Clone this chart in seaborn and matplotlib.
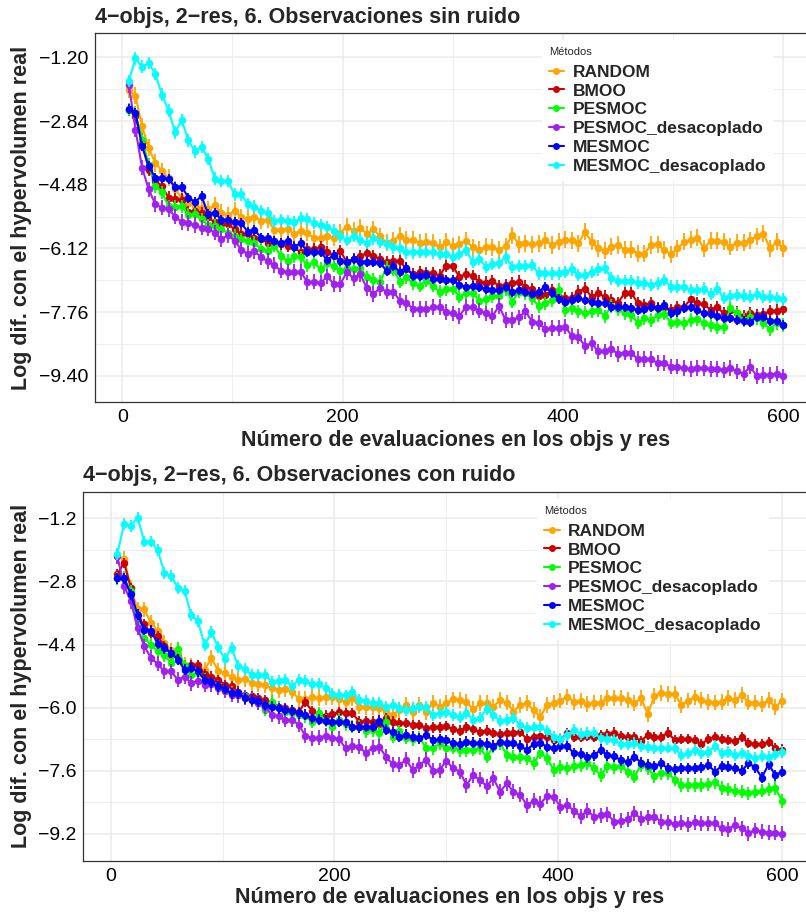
import numpy as np
import pandas as pd
import matplotlib
matplotlib.use("Agg")
import matplotlib.pyplot as plt
import seaborn as sns
from matplotlib.lines import Line2D

sns.set_theme(style="white")
plt.rcParams['font.family'] = ['Liberation Sans', 'DejaVu Sans']

# ---------------- data ----------------
methods = ["RANDOM", "BMOO", "PESMOC", "PESMOC_desacoplado", "MESMOC", "MESMOC_desacoplado"]
colors = ["#FFA500", "#CD0000", "#00FF00", "#A020F0", "#0000FF", "#00FFFF"]

evaluations = list(range(6, 601, 6))

titles = ["4\u2212objs, 2\u2212res, 6. Observaciones sin ruido",
          "4\u2212objs, 2\u2212res, 6. Observaciones con ruido"]
x_label = "Número de evaluaciones en los objs y res"
y_label = "Log dif. con el hypervolumen real"
legend_title = "Métodos"

x_ticks = [0, 200, 400, 600]
top_y_ticks = [-1.20, -2.84, -4.48, -6.12, -7.76, -9.40]
bot_y_ticks = [-1.2, -2.8, -4.4, -6.0, -7.6, -9.2]

# ---- top panel: sin ruido ----
top_random = [-2.04, -2.19, -2.98, -3.53, -3.92, -4.13, -4.30, -4.60, -4.81, -4.94,
              -5.03, -5.07, -5.11, -5.01, -5.20, -5.26, -5.15, -5.32, -5.35, -5.30,
              -5.41, -5.38, -5.64, -5.64, -5.62, -5.75, -5.66, -5.71, -5.86, -5.86,
              -5.81, -5.84, -5.71, -5.56, -5.66, -5.58, -5.75, -5.62, -5.81, -5.97,
              -5.92, -5.79, -5.90, -5.90, -5.97, -5.95, -5.97, -6.09, -5.95,
              -6.06, -6.01, -5.92, -6.09, -6.15, -6.08, -6.09, -6.16, -6.06, -5.78,
              -6.01, -5.99, -6.01, -5.99, -5.91, -6.03, -5.95, -5.89, -5.91, -5.99,
              -5.69, -5.95, -6.12, -6.18, -6.08, -6.03, -6.15, -6.15, -6.25, -6.25,
              -6.03, -6.01, -6.16, -6.27, -6.12, -5.95, -5.89, -5.84, -6.12, -5.92,
              -5.92, -5.95, -6.08, -5.97, -5.97, -5.91, -5.80, -5.74, -6.12, -5.95,
              -6.12]
top_bmoo = [-2.55, -2.72, -3.40, -4.09, -4.39, -4.51, -4.81, -4.84, -4.86, -5.18,
            -5.15, -5.20, -5.32, -5.45, -5.50, -5.50, -5.62, -5.75, -5.75, -5.84,
            -5.88, -5.97, -5.98, -6.01, -6.05, -6.09, -6.22, -6.14, -6.14, -6.09,
            -6.22, -6.31, -6.18, -6.48, -6.39, -6.31, -6.24, -6.31, -6.39, -6.48,
            -6.44, -6.44, -6.65, -6.78, -6.73, -6.75, -6.75, -6.82, -6.56,
            -6.57, -6.85, -6.78, -6.83, -6.97, -7.00, -6.95, -7.09, -7.06, -7.02,
            -6.97, -7.10, -7.17, -7.34, -7.32, -7.19, -7.36, -7.40, -7.40, -7.23,
            -7.15, -7.36, -7.27, -7.36, -7.45, -7.53, -7.26, -7.26, -7.53, -7.57,
            -7.53, -7.66, -7.62, -7.70, -7.62, -7.62, -7.43, -7.53, -7.55, -7.70,
            -7.63, -7.79, -7.70, -7.77, -7.86, -7.79, -7.83, -7.80, -7.74, -7.72,
            -7.68]
top_pesmoc = [-2.55, -2.63, -3.32, -3.96, -4.51, -4.67, -5.03, -5.04, -5.03, -5.26,
              -5.24, -5.37, -5.52, -5.54, -5.62, -5.73, -5.79, -5.88, -5.92, -5.97,
              -6.14, -6.18, -6.05, -6.32, -6.44, -6.32, -6.35, -6.55, -6.48, -6.65,
              -6.50, -6.56, -6.69, -6.63, -6.65, -6.61, -6.86, -6.92, -6.97, -6.61,
              -6.67, -6.97, -6.86, -7.01, -7.08, -6.95, -7.08, -7.23, -7.16,
              -7.15, -7.36, -7.26, -7.26, -7.46, -7.43, -7.34, -7.34, -7.17, -7.49,
              -7.23, -7.27, -7.40, -7.60, -7.53, -7.45, -7.19, -7.70, -7.66, -7.74,
              -7.77, -7.74, -7.70, -7.86, -7.60, -7.68, -7.79, -7.83, -8.03, -7.92,
              -7.96, -7.83, -7.80, -8.03, -8.00, -8.04, -7.96, -7.94, -8.04, -8.09,
              -8.15, -8.15, -7.66, -7.79, -7.96, -7.87, -7.92, -8.03, -8.20, -8.04,
              -8.09]
top_pesmoc_desac = [-1.91, -3.06, -4.04, -4.60, -4.98, -5.07, -5.11, -5.30, -5.44, -5.47,
                    -5.52, -5.58, -5.61, -5.71, -5.88, -5.78, -5.92, -6.15, -6.26, -6.18,
                    -6.35, -6.44, -6.55, -6.69, -6.73, -6.72, -6.72, -6.99, -6.97, -7.01,
                    -6.84, -7.03, -7.03, -6.72, -6.89, -6.78, -7.14, -7.29, -7.14, -7.23,
                    -7.23, -7.46, -7.52, -7.67, -7.67, -7.67, -7.63, -7.63, -7.76,
                    -7.79, -7.86, -7.62, -7.63, -7.72, -7.79, -7.86, -7.60, -7.96, -7.96,
                    -7.89, -7.74, -8.00, -8.03, -8.20, -8.17, -8.17, -8.13, -8.37, -8.39,
                    -8.63, -8.56, -8.77, -8.77, -8.71, -8.83, -8.80, -8.80, -8.97, -8.97,
                    -8.97, -9.07, -9.07, -9.16, -9.16, -9.20, -9.22, -9.20, -9.20, -9.22,
                    -9.22, -9.24, -9.20, -9.28, -9.34, -9.16, -9.40, -9.37, -9.37, -9.34,
                    -9.41]
top_mesmoc = [-2.53, -2.63, -3.49, -4.00, -4.30, -4.30, -4.34, -4.53, -4.53, -4.81,
              -4.92, -4.77, -5.24, -5.20, -5.38, -5.38, -5.45, -5.47, -5.69, -5.64,
              -5.84, -5.86, -5.92, -5.97, -5.92, -6.09, -5.98, -6.20, -6.22, -6.22,
              -6.41, -6.29, -6.44, -6.48, -6.39, -6.46, -6.46, -6.46, -6.50, -6.69,
              -6.56, -6.72, -6.61, -6.82, -6.82, -6.80, -6.90, -6.90, -6.92,
              -6.93, -7.06, -7.10, -7.09, -7.10, -7.17, -7.19, -7.19, -7.12, -7.23,
              -7.19, -7.23, -7.29, -7.23, -7.10, -7.27, -7.43, -7.49, -7.45, -7.40,
              -7.45, -7.49, -7.53, -7.53, -7.62, -7.62, -7.62, -7.66, -7.70, -7.68,
              -7.62, -7.66, -7.57, -7.77, -7.74, -7.66, -7.63, -7.70, -7.79, -7.80,
              -7.86, -7.92, -7.92, -7.96, -7.98, -8.00, -7.89, -7.87, -7.98, -7.98,
              -8.09]
top_mesmoc_desac = [-1.81, -1.23, -1.44, -1.35, -1.63, -2.16, -2.57, -3.13, -2.82, -3.34,
                    -3.62, -3.51, -3.81, -4.32, -4.39, -4.39, -4.73, -4.73, -4.98, -5.04,
                    -5.15, -5.20, -5.42, -5.38, -5.42, -5.45, -5.33, -5.37, -5.47, -5.52,
                    -5.56, -5.66, -5.81, -5.90, -5.79, -5.90, -5.98, -5.86, -5.95, -6.01,
                    -6.09, -6.12, -6.22, -6.22, -6.20, -6.20, -6.22, -6.26, -6.26,
                    -6.33, -6.25, -6.16, -6.46, -6.38, -6.59, -6.52, -6.49, -6.35, -6.59,
                    -6.57, -6.57, -6.55, -6.76, -6.76, -6.76, -6.76, -6.72, -6.66, -6.80,
                    -6.80, -6.72, -6.66, -6.61, -6.89, -6.95, -6.95, -6.95, -7.00, -7.02,
                    -7.06, -7.02, -6.93, -7.10, -7.10, -7.10, -7.19, -7.19, -7.15, -7.29,
                    -7.15, -7.40, -7.34, -7.32, -7.33, -7.36, -7.29, -7.36, -7.36, -7.40,
                    -7.43]
top_err = [0.22, 0.16, 0.17, 0.20, 0.13, 0.16]

# ---- bottom panel: con ruido ----
bot_random = [-2.16, -2.24, -2.96, -3.51, -3.51, -3.85, -4.06, -4.36, -4.55, -4.64,
              -4.91, -4.95, -4.99, -5.04, -4.74, -5.06, -5.12, -5.23, -5.29, -5.27,
              -5.37, -5.40, -5.43, -5.50, -5.55, -5.52, -5.59, -5.77, -5.77, -5.74,
              -5.76, -5.74, -5.74, -5.77, -5.86, -5.76, -5.97, -5.99, -5.99, -6.01,
              -6.10, -6.18, -6.05, -5.93, -6.10, -5.93, -6.10, -5.88,
              -5.97, -5.89, -5.79, -5.81, -5.85, -6.04, -5.89, -5.89, -5.97, -5.81,
              -5.87, -6.10, -5.93, -5.89, -6.06, -6.23, -5.93, -5.87, -5.82, -5.72,
              -5.85, -5.82, -5.91, -5.87, -5.87, -5.76, -5.76, -5.76, -5.81, -5.89,
              -5.76, -6.16, -5.70, -5.62, -5.65, -5.65, -5.93, -5.82, -5.74, -5.81,
              -5.85, -5.87, -5.85, -5.76, -5.81, -5.68, -5.87, -5.87, -5.91, -5.81,
              -5.99, -5.82]
bot_bmoo = [-2.61, -2.33, -2.96, -3.77, -3.89, -4.11, -4.19, -4.44, -4.66, -4.72,
            -4.99, -4.91, -4.91, -5.15, -5.21, -5.29, -5.42, -5.46, -5.59, -5.69,
            -5.71, -5.76, -5.80, -5.88, -5.97, -6.01, -6.05, -6.10, -5.86, -6.08,
            -6.16, -6.20, -6.16, -6.11, -6.14, -6.14, -6.35, -6.33, -6.35, -6.42,
            -6.26, -6.35, -6.39, -6.39, -6.43, -6.43, -6.52, -6.50,
            -6.50, -6.46, -6.55, -6.58, -6.50, -6.55, -6.61, -6.58, -6.65, -6.67,
            -6.65, -6.63, -6.61, -6.80, -6.74, -6.72, -6.74, -6.82, -6.80, -6.65,
            -6.74, -6.75, -6.72, -6.74, -6.69, -6.67, -6.63, -6.72, -6.75, -6.74,
            -6.84, -6.69, -6.75, -6.74, -6.63, -6.82, -6.80, -6.80, -6.82, -6.92,
            -6.80, -6.74, -6.80, -6.82, -6.84, -6.75, -6.89, -6.92, -6.92, -6.86,
            -7.03, -7.06]
bot_pesmoc = [-2.72, -2.71, -3.05, -3.85, -4.23, -4.40, -4.57, -4.66, -4.87, -4.50,
              -4.95, -5.16, -5.12, -5.29, -5.38, -5.46, -5.57, -5.63, -5.69, -5.71,
              -5.80, -5.88, -6.05, -5.86, -6.01, -6.10, -6.14, -6.18, -6.22, -6.35,
              -6.14, -6.33, -6.48, -6.31, -6.42, -6.48, -6.48, -6.59, -6.56, -6.65,
              -6.35, -6.73, -6.60, -6.76, -6.79, -6.76, -7.03, -7.03,
              -6.90, -7.01, -7.01, -7.07, -7.07, -7.06, -7.03, -7.24, -6.99, -6.89,
              -7.20, -7.24, -7.26, -7.28, -7.41, -7.14, -7.28, -7.58, -7.50, -7.54,
              -7.48, -7.45, -7.41, -7.54, -7.71, -7.48, -7.50, -7.48, -7.62, -7.75,
              -7.45, -7.54, -7.73, -7.65, -7.66, -7.82, -7.96, -7.96, -7.96, -7.96,
              -7.94, -7.88, -8.04, -8.07, -8.10, -8.13, -8.17, -8.13, -8.10, -8.07,
              -8.04, -8.36]
bot_pesmoc_desac = [-2.16, -2.92, -3.30, -3.98, -4.44, -4.74, -4.89, -5.08, -5.08, -5.29,
                    -5.21, -5.38, -5.32, -5.42, -5.40, -5.50, -5.57, -5.67, -5.69, -5.74,
                    -5.80, -5.88, -5.97, -6.18, -6.22, -6.31, -6.31, -6.43, -6.71, -6.77,
                    -6.76, -6.71, -6.77, -6.79, -7.03, -6.96, -6.99, -7.15, -7.01, -6.99,
                    -7.24, -7.43, -7.45, -7.32, -7.58, -7.45, -7.32, -7.60,
                    -7.58, -7.34, -7.54, -7.62, -7.96, -7.71, -7.83, -7.99, -7.79, -8.13,
                    -7.92, -8.13, -8.21, -8.47, -8.36, -8.43, -8.24, -8.26, -8.51, -8.47,
                    -8.61, -8.75, -8.61, -8.76, -8.72, -8.70, -8.89, -8.86, -8.83, -8.68,
                    -8.81, -8.78, -8.76, -8.89, -8.90, -8.94, -8.91, -8.95, -8.90, -8.93,
                    -8.93, -8.93, -9.06, -9.08, -8.97, -9.06, -9.18, -9.10, -9.14, -9.17,
                    -9.17, -9.20]
bot_mesmoc = [-2.72, -2.72, -3.13, -3.64, -4.02, -4.05, -4.38, -4.49, -4.61, -4.78,
              -5.04, -4.99, -5.08, -5.29, -5.35, -5.46, -5.52, -5.63, -5.63, -5.76,
              -5.80, -5.84, -5.93, -5.97, -6.01, -6.05, -6.08, -6.14, -6.18, -6.27,
              -6.31, -6.33, -6.35, -6.35, -6.37, -6.48, -6.50, -6.48, -6.48, -6.33,
              -6.56, -6.62, -6.73, -6.69, -6.73, -6.77, -6.69, -6.82,
              -6.80, -6.82, -6.90, -6.92, -6.86, -6.89, -6.90, -6.92, -6.97, -6.86,
              -6.90, -6.90, -6.97, -7.07, -6.92, -6.90, -6.99, -7.03, -6.97, -6.97,
              -7.16, -7.17, -7.26, -7.20, -7.07, -7.20, -7.23, -7.33, -7.37, -7.24,
              -7.39, -7.45, -7.48, -7.41, -7.54, -7.56, -7.54, -7.54, -7.54, -7.51,
              -7.45, -7.62, -7.48, -7.50, -7.54, -7.60, -7.41, -7.51, -7.77, -7.43,
              -7.71, -7.62]
bot_mesmoc_desac = [-2.10, -1.34, -1.39, -1.18, -1.79, -1.79, -2.01, -2.58, -2.67, -2.96,
                    -3.03, -3.66, -3.81, -4.42, -4.08, -4.47, -4.76, -4.49, -4.95, -5.01,
                    -5.18, -5.18, -5.16, -5.35, -5.32, -5.29, -5.46, -5.29, -5.33, -5.40,
                    -5.40, -5.50, -5.66, -5.67, -5.69, -5.59, -5.80, -5.84, -5.88, -5.88,
                    -5.99, -5.94, -6.01, -6.05, -6.01, -5.97, -5.99, -6.18,
                    -6.13, -6.10, -6.19, -6.23, -6.14, -6.30, -6.25, -6.04, -6.19, -6.33,
                    -6.31, -6.27, -6.44, -6.52, -6.50, -6.50, -6.58, -6.74, -6.80, -6.69,
                    -6.57, -6.67, -6.65, -6.63, -6.78, -6.80, -6.82, -6.92, -6.92, -6.90,
                    -6.97, -6.99, -7.03, -7.03, -7.01, -7.03, -7.20, -7.16, -7.07, -7.14,
                    -7.12, -6.97, -7.16, -7.12, -7.20, -7.16, -7.23, -7.28, -7.23, -7.24,
                    -7.17, -7.12]
bot_err = [0.20, 0.13, 0.17, 0.19, 0.14, 0.15]

top_series = [top_random, top_bmoo, top_pesmoc, top_pesmoc_desac, top_mesmoc, top_mesmoc_desac]
bot_series = [bot_random, bot_bmoo, bot_pesmoc, bot_pesmoc_desac, bot_mesmoc, bot_mesmoc_desac]


def make_df(series, errs):
    frames = []
    for m, vals, e in zip(methods, series, errs):
        frames.append(pd.DataFrame({"evals": evaluations, "value": vals,
                                    "err": e, "method": m}))
    return pd.concat(frames, ignore_index=True)


df_top = make_df(top_series, top_err)
df_bot = make_df(bot_series, bot_err)

W, H = 806, 913
fig = plt.figure(figsize=(W / 100, H / 100), dpi=100)
fig.patch.set_facecolor("white")


def px_axes(left, top, right, bottom):
    return fig.add_axes([left / W, 1 - bottom / H, (right - left) / W, (bottom - top) / H])


ax_top = px_axes(95, 33, 816, 402)
ax_bot = px_axes(83, 491.7, 815.3, 861)

palette = dict(zip(methods, colors))


def fmt_minus(v, nd):
    return f"{v:.{nd}f}".replace("-", "\u2212")


def draw_panel(ax, df, yticks, ylim, nd, legend_anchor, title, title_x, title_base,
               xlab_base, ylab_center):
    for i, m in enumerate(methods):
        sub = df[df["method"] == m]
        sns.lineplot(data=sub, x="evals", y="value", color=palette[m], ax=ax,
                     linewidth=1.5, marker="o", markersize=5.4, markeredgewidth=0,
                     errorbar=None, legend=False, zorder=3 + i * 0.1)
        ax.errorbar(sub["evals"], sub["value"], yerr=sub["err"], fmt="none",
                    ecolor=palette[m], elinewidth=1.3, capsize=0, zorder=3 + i * 0.1)
    ax.set_xlim(-24.75, 629.75)
    ax.set_ylim(*ylim)
    ax.set_xticks(x_ticks)
    ax.set_xticklabels([str(t) for t in x_ticks])
    ax.set_xticks([100, 300, 500], minor=True)
    ax.set_yticks(yticks)
    ax.set_yticklabels([fmt_minus(t, nd) for t in yticks])
    ax.set_yticks([(a + b) / 2 for a, b in zip(yticks[:-1], yticks[1:])], minor=True)
    ax.grid(which="major", color="#EBEBEB", linewidth=1.1)
    ax.grid(which="minor", color="#EBEBEB", linewidth=0.6)
    ax.set_axisbelow(True)
    ax.set_facecolor("white")
    for s in ax.spines.values():
        s.set_color("#333333")
        s.set_linewidth(0.9)
    ax.tick_params(which="major", length=3, width=0.8, color="#333333",
                   labelsize=14, labelcolor="black", pad=2)
    ax.tick_params(which="minor", length=0)
    ax.set_xlabel("")
    ax.set_ylabel("")

    handles = [Line2D([0], [0], color=c, marker="o", markersize=5, markeredgewidth=0,
                      linewidth=1.5) for c in colors]
    leg = ax.legend(handles, methods, title=legend_title, loc="upper left",
                    bbox_to_anchor=legend_anchor, bbox_transform=fig.transFigure,
                    prop={"weight": "bold", "size": 12.5},
                    title_fontproperties={"size": 8},
                    alignment="left", frameon=True, fancybox=False, framealpha=1,
                    facecolor="white", edgecolor="none", borderpad=0.4,
                    labelspacing=0.21, handlelength=0.9, handletextpad=0.5,
                    borderaxespad=0)
    leg._legend_box.sep = 5.5
    leg.set_zorder(10)

    fig.text(title_x / W, 1 - title_base / H, title, fontsize=15.5, fontweight="bold",
             ha="left", va="baseline")
    pos = ax.get_position()
    fig.text(pos.x0 + pos.width / 2, 1 - xlab_base / H, x_label, fontsize=15.5,
             fontweight="bold", ha="center", va="baseline")
    fig.text(22 / W, 1 - ylab_center / H, y_label, fontsize=15.5, fontweight="bold",
             rotation=90, ha="center", va="center")


draw_panel(ax_top, df_top, top_y_ticks, (-10.07, -0.575), 2,
           (541.7 / W, 1 - 40 / H), titles[0], 95, 22.7, 446, 217.5)
draw_panel(ax_bot, df_bot, bot_y_ticks, (-9.885, -0.526), 1,
           (537 / W, 1 - 499 / H), titles[1], 83, 481, 903, 676)

fig.savefig("out.png", dpi=100, facecolor="white")
